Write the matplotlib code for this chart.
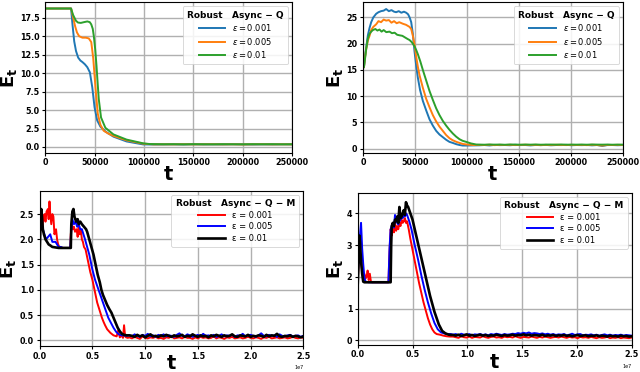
import matplotlib.pyplot as plt
import numpy as np

# ---- top left: Robust Async-Q (first setting) ----
tl_t_blue = [0, 26000, 27500, 29200, 31000, 33200, 35500, 37500, 40000, 42500, 45100,
             47500, 49800, 52500, 55800, 60800, 69000, 82300, 99000, 110000]
tl_blue = [18.75, 18.75, 16.5, 14.3, 13.0, 12.1, 11.7, 11.5, 11.2, 10.8, 10.1,
           8.1, 5.4, 3.6, 2.75, 2.1, 1.4, 0.75, 0.35, 0.33]
tl_t_orange = [0, 26000, 28000, 30000, 32000, 34200, 37500, 41000, 44000, 46500, 48500,
               50800, 53100, 55800, 59100, 64000, 69000, 82300, 99000, 110000]
tl_orange = [18.75, 18.75, 17.6, 16.4, 15.5, 15.0, 14.8, 14.8, 14.7, 14.2, 12.0,
             8.0, 4.5, 3.0, 2.2, 1.8, 1.5, 0.9, 0.45, 0.35]
tl_t_green = [0, 26000, 28000, 30900, 33000, 35900, 39000, 42500, 45000, 46500, 48000,
              49100, 50500, 51800, 53000, 54100, 56400, 60800, 69000, 82300, 99000, 105600]
tl_green = [18.75, 18.75, 17.9, 17.1, 16.85, 16.8, 16.9, 17.0, 16.9, 16.6, 16.0,
            15.0, 13.2, 11.0, 8.6, 6.5, 4.0, 2.6, 1.7, 1.0, 0.5, 0.4]
tl_tail_blue = [0.34, 0.35, 0.33, 0.36, 0.34, 0.35, 0.34, 0.36, 0.35, 0.33, 0.35, 0.34, 0.36, 0.35]
tl_tail_orange = [0.36, 0.35, 0.37, 0.35, 0.36, 0.37, 0.35, 0.36, 0.34, 0.36, 0.37, 0.35, 0.36, 0.35]
tl_tail_green = [0.37, 0.38, 0.36, 0.38, 0.37, 0.36, 0.38, 0.37, 0.36, 0.38, 0.37, 0.38, 0.36, 0.37]

# ---- top right: Robust Async-Q (second setting) ----
tr_t_blue = [0, 1000, 2000, 3000, 4800, 6400, 8000, 10000, 12800, 15000, 17500, 20000, 22400,
             25000, 27500, 30000, 32000, 34500, 37000, 39500, 41700, 43500, 45000, 46500,
             48000, 49700, 51300, 52900, 55000, 57700, 60900, 64100, 67300, 70500, 73700,
             76900, 80100, 83300, 86500, 90000, 93000, 96000, 99400]
tr_blue = [17.0, 15.5, 17.5, 19.0, 21.6, 23.0, 24.1, 25.0, 25.7, 26.0, 26.2, 26.3, 26.6,
           26.2, 26.4, 26.1, 26.0, 26.2, 25.9, 26.1, 25.9, 25.6, 25.0, 24.1,
           22.0, 18.5, 15.8, 13.5, 11.2, 9.1, 7.3, 5.6, 4.4, 3.4, 2.7,
           2.2, 1.7, 1.3, 1.1, 0.85, 0.7, 0.6, 0.6]
tr_t_orange = [0, 1000, 2000, 3200, 4800, 6400, 8000, 10000, 12800, 15000, 17500, 20000, 22400,
               25000, 27500, 30000, 32500, 35000, 38500, 41500, 44900, 46500, 48100, 49700,
               51300, 52900, 54500, 57700, 60900, 64100, 67300, 70500, 73700, 76900, 80100,
               83300, 86500, 90000, 93000, 96200, 100000, 105800]
tr_orange = [17.0, 15.5, 17.3, 19.0, 20.6, 21.5, 22.6, 23.2, 23.7, 24.3, 24.1, 24.6, 24.4,
             24.5, 24.0, 24.3, 23.9, 24.1, 23.8, 23.6, 23.2, 22.8, 21.5, 19.8,
             17.5, 15.6, 14.0, 11.6, 9.5, 7.9, 6.4, 5.2, 4.2, 3.4, 2.6,
             2.0, 1.6, 1.3, 1.1, 0.9, 0.8, 0.7]
tr_t_green = [0, 1000, 2000, 3200, 4800, 6400, 8000, 9600, 12000, 14000, 16000, 18000, 20000,
              22500, 25600, 28000, 30500, 33000, 35300, 38000, 40500, 43000, 44900, 47000,
              49700, 51300, 52900, 55300, 57700, 60900, 64100, 67300, 70500, 73700, 76900,
              80100, 83300, 86500, 89700, 93000, 96000, 99400, 104000, 109000]
tr_green = [17.0, 15.5, 17.0, 19.0, 21.0, 21.9, 22.3, 22.6, 22.8, 22.5, 22.7, 22.3, 22.6,
            22.2, 22.3, 22.0, 22.1, 21.7, 21.6, 21.5, 21.2, 20.9, 20.7, 20.3,
            19.5, 18.8, 18.0, 16.6, 15.0, 13.0, 11.0, 9.3, 7.7, 6.4, 5.3,
            4.4, 3.6, 2.9, 2.3, 1.8, 1.5, 1.3, 1.0, 0.8]
tr_tail_blue = [0.65, 0.7, 0.62, 0.72, 0.68, 0.7, 0.66, 0.74, 0.69, 0.7, 0.63, 0.71, 0.68, 0.72, 0.65,
                0.7, 0.69, 0.73, 0.66, 0.7, 0.68, 0.71, 0.64, 0.7, 0.52, 0.69, 0.7, 0.66, 0.7]
tr_tail_orange = [0.72, 0.7, 0.75, 0.68, 0.73, 0.7, 0.74, 0.69, 0.72, 0.75, 0.7, 0.73, 0.68, 0.72, 0.7,
                  0.74, 0.71, 0.69, 0.73, 0.7, 0.72, 0.68, 0.74, 0.7, 0.6, 0.72, 0.7, 0.73, 0.71]
tr_tail_green = [0.78, 0.76, 0.8, 0.77, 0.79, 0.75, 0.8, 0.78, 0.76, 0.79, 0.77, 0.8, 0.76, 0.78, 0.79,
                 0.77, 0.8, 0.76, 0.78, 0.77, 0.79, 0.76, 0.8, 0.78, 0.77, 0.79, 0.76, 0.78, 0.77]

# ---- bottom left: Robust Async-Q-M (t in units of 1e7) ----
bl_t_red = [0, 0.008, 0.016, 0.025, 0.035, 0.047, 0.055, 0.065, 0.078, 0.085, 0.093, 0.1, 0.11,
            0.12, 0.13, 0.14, 0.155, 0.165, 0.175, 0.186, 0.2, 0.22, 0.29, 0.295, 0.305, 0.315,
            0.325, 0.335, 0.35, 0.36, 0.37, 0.38, 0.39, 0.4, 0.41, 0.42, 0.435, 0.45, 0.466,
            0.48, 0.5, 0.515, 0.53, 0.545, 0.56, 0.575, 0.59, 0.605, 0.62, 0.64, 0.67, 0.7,
            0.73, 0.745, 0.76, 0.775, 0.79, 0.8, 0.81, 0.82, 0.835]
bl_red = [2.0, 2.3, 2.4, 2.2, 2.45, 2.5, 2.35, 2.55, 2.6, 2.4, 2.75, 2.5, 2.3,
          2.5, 2.45, 2.1, 2.2, 2.0, 1.9, 1.85, 1.84, 1.83, 1.83, 2.1, 2.3, 2.2,
          2.25, 2.15, 2.2, 2.05, 2.25, 2.1, 2.2, 2.0, 1.95, 1.85, 1.8, 1.65, 1.5,
          1.35, 1.2, 1.05, 0.9, 0.75, 0.65, 0.55, 0.45, 0.37, 0.3, 0.22, 0.15, 0.1,
          0.08, 0.2, 0.06, 0.1, 0.05, 0.3, 0.08, 0.06, 0.05]
bl_t_blue = [0, 0.01, 0.02, 0.03, 0.045, 0.06, 0.08, 0.1, 0.12, 0.15, 0.18, 0.2, 0.22, 0.29,
             0.3, 0.31, 0.325, 0.34, 0.355, 0.37, 0.385, 0.4, 0.415, 0.43, 0.45, 0.47, 0.5,
             0.525, 0.55, 0.575, 0.6, 0.625, 0.65, 0.675, 0.7, 0.725, 0.75, 0.775, 0.8, 0.825]
bl_blue = [2.0, 2.5, 2.3, 2.2, 2.1, 2.0, 2.05, 2.1, 1.95, 1.95, 1.85, 1.85, 1.83, 1.83,
           2.2, 2.4, 2.3, 2.35, 2.25, 2.3, 2.2, 2.2, 2.1, 2.0, 1.85, 1.7, 1.4,
           1.2, 1.05, 0.9, 0.75, 0.6, 0.45, 0.35, 0.25, 0.17, 0.12, 0.1, 0.1, 0.09]
bl_t_black = [0, 0.008, 0.015, 0.022, 0.03, 0.04, 0.055, 0.07, 0.085, 0.1, 0.12, 0.15, 0.18,
              0.22, 0.295, 0.3, 0.31, 0.32, 0.33, 0.345, 0.36, 0.37, 0.385, 0.4, 0.42, 0.44,
              0.45, 0.47, 0.49, 0.51, 0.53, 0.55, 0.57, 0.585, 0.6, 0.62, 0.64, 0.66, 0.68,
              0.7, 0.72, 0.74, 0.76, 0.78, 0.8, 0.825]
bl_black = [1.75, 2.3, 2.6, 2.45, 2.2, 2.1, 2.0, 1.95, 1.9, 1.88, 1.85, 1.84, 1.83,
            1.83, 1.83, 2.3, 2.55, 2.6, 2.45, 2.35, 2.4, 2.3, 2.35, 2.3, 2.25, 2.2,
            2.15, 2.0, 1.85, 1.7, 1.5, 1.3, 1.15, 1.0, 0.9, 0.8, 0.7, 0.62, 0.55,
            0.45, 0.35, 0.25, 0.18, 0.13, 0.11, 0.1]
bl_tail_red = [0.06, 0.04, 0.07, 0.05, 0.03, 0.08, 0.05, 0.04, 0.06, 0.05,
               0.07, 0.04, 0.05, 0.03, 0.06, 0.05, 0.08, 0.04, 0.05, 0.06,
               0.04, 0.07, 0.05, 0.05, 0.03, 0.06, 0.04, 0.07, 0.05, 0.06,
               0.04, 0.05, 0.08, 0.04, 0.06, 0.05, 0.03, 0.06, 0.05, 0.07,
               0.04, 0.05, 0.06, 0.04, 0.05, 0.07, 0.05, 0.04, 0.06, 0.05,
               0.03, 0.06, 0.05, 0.07, 0.04, 0.05, 0.06, 0.04, 0.05, 0.06,
               0.04, 0.05, 0.07, 0.05, 0.04, 0.06, 0.05]
bl_tail_blue = [0.1, 0.08, 0.12, 0.09, 0.07, 0.11, 0.09, 0.13, 0.08, 0.1,
                0.07, 0.11, 0.09, 0.12, 0.08, 0.1, 0.09, 0.07, 0.11, 0.14,
                0.09, 0.08, 0.12, 0.1, 0.07, 0.09, 0.11, 0.08, 0.13, 0.09,
                0.1, 0.08, 0.11, 0.07, 0.09, 0.12, 0.08, 0.1, 0.09, 0.11,
                0.07, 0.1, 0.09, 0.13, 0.08, 0.1, 0.11, 0.09, 0.07, 0.1,
                0.14, 0.09, 0.08, 0.11, 0.09, 0.1, 0.07, 0.12, 0.09, 0.08,
                0.1, 0.11, 0.08, 0.09, 0.1, 0.07, 0.09]
bl_tail_black = [0.1, 0.09, 0.07, 0.11, 0.08, 0.1, 0.06, 0.09, 0.12, 0.08,
                 0.09, 0.07, 0.1, 0.08, 0.11, 0.09, 0.07, 0.1, 0.08, 0.09,
                 0.11, 0.07, 0.09, 0.08, 0.12, 0.09, 0.07, 0.1, 0.08, 0.09,
                 0.06, 0.1, 0.08, 0.11, 0.09, 0.07, 0.1, 0.08, 0.09, 0.12,
                 0.08, 0.07, 0.1, 0.09, 0.08, 0.11, 0.07, 0.09, 0.08, 0.1,
                 0.09, 0.07, 0.11, 0.08, 0.1, 0.09, 0.13, 0.08, 0.07, 0.09,
                 0.08, 0.1, 0.07, 0.09, 0.08, 0.06, 0.08]

# ---- bottom right: Robust Async-Q-M (t in units of 1e7) ----
br_t_red = [0, 0.008, 0.015, 0.022, 0.03, 0.04, 0.05, 0.06, 0.07, 0.08, 0.09, 0.1, 0.11, 0.12,
            0.13, 0.2, 0.28, 0.29, 0.3, 0.31, 0.32, 0.33, 0.34, 0.35, 0.36, 0.37, 0.38, 0.39,
            0.4, 0.41, 0.42, 0.43, 0.44, 0.45, 0.465, 0.48, 0.5, 0.52, 0.54, 0.56, 0.58, 0.6,
            0.62, 0.64, 0.66, 0.68, 0.7, 0.72, 0.75, 0.78, 0.81, 0.84]
br_red = [1.8, 2.6, 3.0, 2.7, 2.5, 2.2, 2.0, 2.1, 1.95, 2.0, 2.2, 1.9, 2.1, 1.85,
          1.83, 1.83, 1.83, 2.8, 3.5, 3.3, 3.6, 3.4, 3.7, 3.45, 3.6, 3.5, 3.7, 3.6,
          3.8, 3.7, 3.75, 3.85, 3.7, 3.75, 3.5, 3.2, 2.85, 2.5, 2.15, 1.8, 1.5, 1.2,
          0.95, 0.7, 0.5, 0.35, 0.25, 0.2, 0.18, 0.15, 0.13, 0.12]
br_t_blue = [0, 0.01, 0.02, 0.03, 0.04, 0.05, 0.06, 0.07, 0.1, 0.2, 0.28, 0.29, 0.3, 0.31,
             0.32, 0.33, 0.34, 0.35, 0.36, 0.37, 0.38, 0.39, 0.4, 0.41, 0.42, 0.43, 0.44,
             0.45, 0.47, 0.49, 0.52, 0.55, 0.58, 0.61, 0.64, 0.67, 0.7, 0.73, 0.76, 0.79,
             0.82, 0.85]
br_blue = [2.0, 2.8, 3.3, 3.7, 2.9, 2.4, 2.0, 1.85, 1.83, 1.83, 1.83, 2.9, 3.5, 3.6,
           3.7, 3.55, 3.95, 3.8, 3.7, 3.65, 3.75, 3.8, 3.9, 3.85, 3.95, 3.9, 4.0,
           3.95, 3.75, 3.5, 3.0, 2.55, 2.05, 1.6, 1.2, 0.85, 0.55, 0.35, 0.25, 0.22,
           0.2, 0.2]
br_t_black = [0, 0.008, 0.015, 0.02, 0.03, 0.04, 0.05, 0.06, 0.1, 0.2, 0.3, 0.305, 0.31, 0.32,
              0.33, 0.34, 0.35, 0.36, 0.37, 0.38, 0.39, 0.4, 0.41, 0.42, 0.43, 0.44, 0.45,
              0.46, 0.48, 0.5, 0.52, 0.54, 0.56, 0.58, 0.6, 0.62, 0.64, 0.66, 0.68, 0.7,
              0.72, 0.74, 0.77, 0.8, 0.83, 0.85]
br_black = [1.8, 2.5, 3.3, 3.1, 2.5, 2.1, 1.85, 1.83, 1.83, 1.83, 1.83, 3.0, 3.6, 3.7,
            3.6, 3.8, 3.75, 3.9, 3.7, 4.2, 3.85, 3.9, 4.0, 4.1, 3.95, 4.35, 4.25,
            4.2, 4.0, 3.8, 3.5, 3.2, 2.9, 2.6, 2.3, 2.0, 1.7, 1.4, 1.15, 0.9,
            0.7, 0.5, 0.3, 0.22, 0.18, 0.17]
br_tail_red = [0.12, 0.1, 0.08, 0.13, 0.1, 0.09, 0.12, 0.08, 0.11, 0.1,
               0.09, 0.13, 0.1, 0.08, 0.11, 0.12, 0.09, 0.1, 0.08, 0.12,
               0.1, 0.11, 0.09, 0.13, 0.1, 0.08, 0.11, 0.1, 0.09, 0.12,
               0.1, 0.08, 0.11, 0.09, 0.12, 0.1, 0.08, 0.1, 0.11, 0.09,
               0.12, 0.1, 0.08, 0.11, 0.09, 0.1, 0.07, 0.11, 0.09, 0.1,
               0.08, 0.11, 0.09, 0.07, 0.1, 0.08, 0.09, 0.11, 0.07, 0.09,
               0.08, 0.1, 0.07, 0.09, 0.08, 0.07, 0.09]
br_tail_blue = [0.18, 0.2, 0.16, 0.21, 0.18, 0.17, 0.2, 0.16, 0.19, 0.18,
                0.2, 0.17, 0.19, 0.16, 0.2, 0.18, 0.21, 0.19, 0.17, 0.2,
                0.18, 0.19, 0.21, 0.2, 0.23, 0.21, 0.24, 0.22, 0.25, 0.21,
                0.23, 0.22, 0.2, 0.22, 0.19, 0.21, 0.18, 0.2, 0.17, 0.19,
                0.18, 0.2, 0.16, 0.18, 0.21, 0.17, 0.19, 0.2, 0.16, 0.18,
                0.17, 0.19, 0.16, 0.18, 0.15, 0.17, 0.19, 0.16, 0.18, 0.15,
                0.17, 0.16, 0.18, 0.15, 0.17, 0.16, 0.15]
br_tail_black = [0.17, 0.15, 0.18, 0.14, 0.16, 0.19, 0.15, 0.17, 0.14, 0.16,
                 0.18, 0.15, 0.17, 0.14, 0.16, 0.15, 0.18, 0.16, 0.14, 0.17,
                 0.15, 0.16, 0.18, 0.15, 0.17, 0.16, 0.19, 0.16, 0.18, 0.15,
                 0.17, 0.16, 0.15, 0.18, 0.14, 0.16, 0.15, 0.17, 0.14, 0.16,
                 0.15, 0.17, 0.14, 0.16, 0.13, 0.15, 0.17, 0.14, 0.15, 0.16,
                 0.13, 0.15, 0.14, 0.16, 0.13, 0.15, 0.14, 0.12, 0.15, 0.13,
                 0.14, 0.12, 0.15, 0.13, 0.14, 0.12, 0.13]

eps_math = [r"$\varepsilon = 0.001$", r"$\varepsilon = 0.005$", r"$\varepsilon = 0.01$"]
eps_text = ["ε = 0.001", "ε = 0.005", "ε = 0.01"]


def join(t_head, y_head, t0, t1, tail, scale=1.0):
    # head points followed by the noisy flat tail on an even grid
    t = np.concatenate([t_head, np.linspace(t0, t1, len(tail))]) * scale
    y = np.concatenate([y_head, tail])
    return t, y


def style(ax, xticks, yticks, xlim, ylim, title, xpad):
    ax.set_xlim(*xlim)
    ax.set_ylim(*ylim)
    ax.set_xticks(xticks)
    ax.set_yticks(yticks)
    ax.grid(True, color="#b0b0b0", linewidth=1.0)
    ax.set_axisbelow(True)
    for lab in ax.get_xticklabels() + ax.get_yticklabels():
        lab.set_fontweight("bold")
    ax.tick_params(labelsize=5.8, length=2.5, pad=1.5)
    ax.set_xlabel("t", fontsize=14, fontweight="bold", labelpad=xpad)
    ax.set_ylabel(r"$\mathbf{E_t}$", fontsize=13, labelpad=1)
    leg = ax.legend(loc="upper right", fontsize=6, title=title,
                    title_fontproperties={"weight": "bold", "size": 6.5},
                    handlelength=3.2, borderpad=0.5, labelspacing=0.3, framealpha=0.85)
    leg.get_frame().set_linewidth(0.6)


fig = plt.figure(figsize=(6.4, 3.72), dpi=100)
ax1 = fig.add_axes([0.071, 0.589, 0.385, 0.405])
ax2 = fig.add_axes([0.567, 0.589, 0.406, 0.405])
ax3 = fig.add_axes([0.062, 0.070, 0.412, 0.417])
ax4 = fig.add_axes([0.559, 0.073, 0.428, 0.409])

# top left
for th, yh, tail, c, lab in [(tl_t_blue, tl_blue, tl_tail_blue, "tab:blue", eps_math[0]),
                             (tl_t_orange, tl_orange, tl_tail_orange, "tab:orange", eps_math[1]),
                             (tl_t_green, tl_green, tl_tail_green, "tab:green", eps_math[2])]:
    t, y = join(th, yh, 120000, 250000, tail)
    ax1.plot(t, y, color=c, lw=1.4, label=lab)
style(ax1, np.arange(0, 250001, 50000), np.arange(0, 17.6, 2.5), (0, 250000), (-0.8, 19.6),
      "Robust   Async − Q", -2)

# top right
for th, yh, tail, c, lab in [(tr_t_blue, tr_blue, tr_tail_blue, "tab:blue", eps_math[0]),
                             (tr_t_orange, tr_orange, tr_tail_orange, "tab:orange", eps_math[1]),
                             (tr_t_green, tr_green, tr_tail_green, "tab:green", eps_math[2])]:
    t, y = join(th, yh, 112000, 250000, tail)
    ax2.plot(t, y, color=c, lw=1.4, label=lab)
style(ax2, np.arange(0, 250001, 50000), np.arange(0, 26, 5), (0, 250000), (-0.8, 27.9),
      "Robust   Async − Q", -2)

# bottom left
for th, yh, tail, c, lw, lab in [(bl_t_red, bl_red, bl_tail_red, "red", 1.4, eps_text[0]),
                                 (bl_t_blue, bl_blue, bl_tail_blue, "blue", 1.4, eps_text[1]),
                                 (bl_t_black, bl_black, bl_tail_black, "black", 1.9, eps_text[2])]:
    t, y = join(th, yh, 0.85, 2.5, tail, scale=1e7)
    ax3.plot(t, y, color=c, lw=lw, label=lab)
style(ax3, np.arange(0, 2.51, 0.5) * 1e7, np.arange(0, 2.51, 0.5), (0, 2.5e7), (-0.11, 2.96),
      "Robust   Async − Q − M", -4.5)

# bottom right
for th, yh, tail, c, lw, lab in [(br_t_red, br_red, br_tail_red, "red", 1.4, eps_text[0]),
                                 (br_t_blue, br_blue, br_tail_blue, "blue", 1.4, eps_text[1]),
                                 (br_t_black, br_black, br_tail_black, "black", 1.9, eps_text[2])]:
    t, y = join(th, yh, 0.87, 2.5, tail, scale=1e7)
    ax4.plot(t, y, color=c, lw=lw, label=lab)
style(ax4, np.arange(0, 2.51, 0.5) * 1e7, np.arange(0, 4.1, 1), (0, 2.5e7), (-0.14, 4.65),
      "Robust   Async − Q − M", -4.5)

for ax in (ax3, ax4):
    ax.xaxis.get_offset_text().set_fontsize(3.5)

fig.savefig("out.png", dpi=100)
